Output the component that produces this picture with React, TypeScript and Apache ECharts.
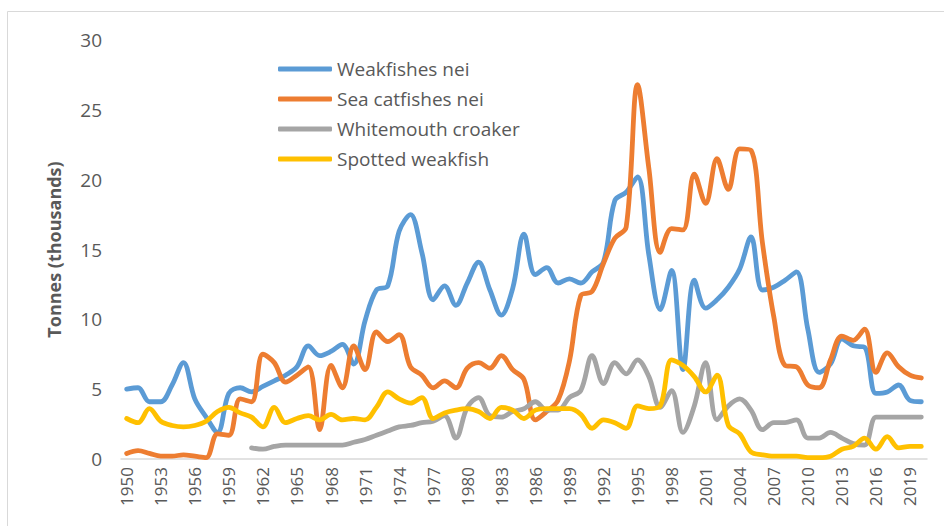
import React, { useEffect, useRef } from "react";
import * as echarts from "echarts";

const years: string[] = [];
for (let y = 1950; y <= 2020; y++) years.push(String(y));

const weakfishes = [
  5.0, 5.1, 4.1, 4.1, 5.3, 6.9, 4.3, 3.0, 1.9, 4.7,
  5.1, 4.8, 5.2, 5.6, 6.0, 6.6, 8.1, 7.4, 7.7, 8.2,
  6.8, 9.9, 12.1, 12.4, 16.3, 17.5, 14.8, 11.4, 12.4, 11.0,
  12.6, 14.1, 12.1, 10.3, 12.2, 16.1, 13.2, 13.7, 12.6, 12.9,
  12.6, 13.4, 14.1, 18.5, 19.1, 20.2, 14.6, 10.7, 13.5, 6.4,
  12.8, 10.8, 11.4, 12.3, 13.6, 15.9, 12.1, 12.3, 12.8, 13.4,
  9.3, 6.2, 6.8, 8.6, 8.1, 8.0, 4.7, 4.8, 5.3, 4.2,
  4.1,
];

const seaCatfishes = [
  0.4, 0.6, 0.4, 0.2, 0.2, 0.3, 0.2, 0.1, 1.8, 1.7,
  4.3, 4.1, 7.5, 6.9, 5.5, 6.0, 6.6, 2.1, 6.7, 5.1,
  8.1, 6.4, 9.1, 8.4, 8.9, 6.6, 6.0, 5.1, 5.6, 5.1,
  6.5, 6.9, 6.5, 7.4, 6.4, 5.7, 2.8, 3.4, 4.2, 7.0,
  11.7, 12.0, 14.0, 15.8, 16.6, 26.8, 20.8, 14.8, 16.5, 16.4,
  20.4, 18.3, 21.5, 19.3, 22.2, 22.1, 15.5, 10.2, 6.7, 6.6,
  5.3, 5.1, 7.1, 8.8, 8.5, 9.3, 6.2, 7.6, 6.6, 6.0,
  5.8,
];

const whitemouth: (number | null)[] = [
  null, null, null, null, null, null, null, null, null, null,
  null, 0.8, 0.7, 0.9, 1.0, 1.0, 1.0, 1.0, 1.0, 1.0,
  1.2, 1.4, 1.7, 2.0, 2.3, 2.4, 2.6, 2.7, 3.1, 1.5,
  3.7, 4.4, 3.1, 3.0, 3.4, 3.6, 4.1, 3.5, 3.5, 4.4,
  4.9, 7.4, 5.4, 6.9, 6.1, 7.1, 5.9, 3.7, 4.9, 1.9,
  3.8, 6.9, 2.8, 3.8, 4.3, 3.5, 2.1, 2.6, 2.6, 2.8,
  1.5, 1.5, 1.9, 1.5, 1.1, 1.0, 3.0, 3.0, 3.0, 3.0,
  3.0,
];

const spotted = [
  2.9, 2.6, 3.6, 2.7, 2.4, 2.3, 2.4, 2.7, 3.4, 3.7,
  3.3, 3.0, 2.3, 3.7, 2.6, 2.9, 3.1, 2.8, 3.2, 2.8,
  2.9, 2.8, 3.7, 4.8, 4.3, 4.0, 4.4, 2.9, 3.3, 3.5,
  3.6, 3.4, 2.9, 3.7, 3.5, 2.9, 3.5, 3.6, 3.6, 3.6,
  3.2, 2.2, 2.8, 2.6, 2.2, 3.8, 3.6, 3.8, 7.1, 6.7,
  5.9, 4.8, 6.0, 2.4, 1.8, 0.5, 0.3, 0.2, 0.2, 0.2,
  0.1, 0.1, 0.2, 0.7, 0.9, 1.5, 0.7, 1.6, 0.8, 0.9,
  0.9,
];

const seriesNames = ["Weakfishes nei", "Sea catfishes nei", "Whitemouth croaker", "Spotted weakfish"];
const seriesColors = ["#5B9BD5", "#ED7D31", "#A5A5A5", "#FFC000"];
const seriesData = [weakfishes, seaCatfishes, whitemouth, spotted];

const FONT = "'Open Sans', 'Liberation Sans', sans-serif";
const TEXT = "#595959";

export default function App() {
  const ref = useRef<HTMLDivElement>(null);
  useEffect(() => {
    if (!ref.current) return;
    const chart = echarts.init(ref.current, undefined, { renderer: "svg" });
    chart.setOption({
      animation: false,
      backgroundColor: "#ffffff",
      textStyle: { fontFamily: FONT },
      graphic: [
        {
          type: "rect",
          shape: { x: 7.5, y: 11.5, width: 1000, height: 600 },
          style: { fill: "none", stroke: "#D9D9D9", lineWidth: 1 },
          silent: true,
          z: -1,
        },
      ],
      legend: {
        orient: "vertical",
        left: 273,
        top: 54,
        itemWidth: 54,
        itemHeight: 5,
        itemGap: 10,
        icon: "roundRect",
        data: seriesNames,
        textStyle: { color: TEXT, fontSize: 19, fontFamily: FONT, lineHeight: 20 },
      },
      grid: { left: 121, right: 17, top: 40, bottom: 67, containLabel: false },
      xAxis: {
        type: "category",
        data: years,
        boundaryGap: true,
        axisLine: { lineStyle: { color: "#D9D9D9", width: 1.5 } },
        axisTick: { show: false },
        axisLabel: {
          interval: 2,
          rotate: 90,
          color: TEXT,
          fontSize: 17,
          fontFamily: FONT,
          margin: 8,
        },
      },
      yAxis: {
        type: "value",
        min: 0,
        max: 30,
        interval: 5,
        name: "Tonnes (thousands)",
        nameLocation: "middle",
        nameGap: 58,
        nameTextStyle: { color: TEXT, fontSize: 18, fontWeight: "bold", fontFamily: FONT },
        axisLine: { show: false },
        axisTick: { show: false },
        splitLine: { show: false },
        axisLabel: { color: TEXT, fontSize: 19, fontFamily: FONT, margin: 19 },
      },
      series: seriesNames.map((name, i) => ({
        name,
        type: "line",
        data: seriesData[i],
        smooth: 0.35,
        showSymbol: false,
        symbol: "none",
        connectNulls: false,
        lineStyle: { color: seriesColors[i], width: 4.8, cap: "round", join: "round" },
        itemStyle: { color: seriesColors[i] },
      })),
    });
    return () => chart.dispose();
  }, []);
  return (
    <div
      ref={ref}
      style={{ position: "absolute", left: 0, top: 0, width: 944, height: 526 }}
    />
  );
}
